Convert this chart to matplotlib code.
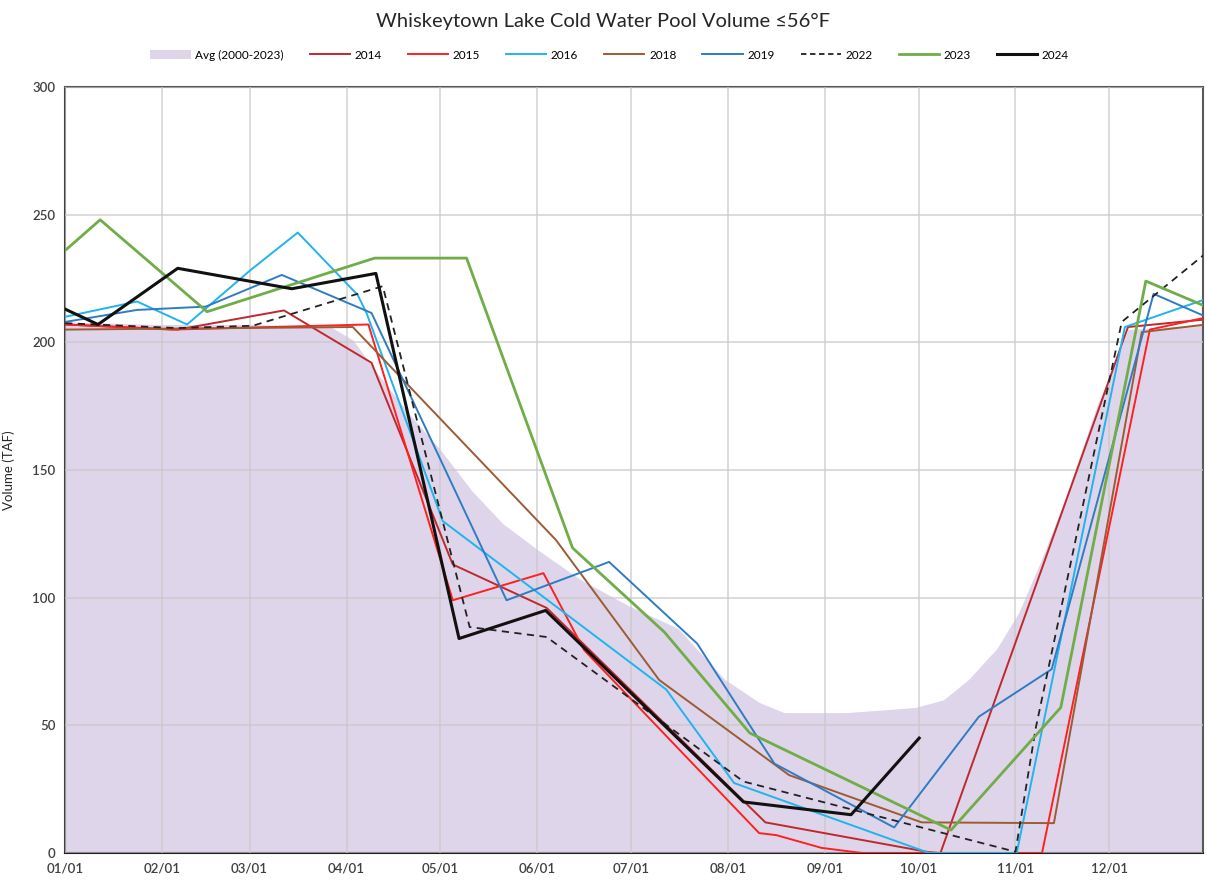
import matplotlib
matplotlib.use("Agg")
import matplotlib.pyplot as plt
from matplotlib.patches import Patch
from matplotlib.lines import Line2D

# Día del año (0 = 1 de enero) y volumen en TAF
month_days = [0, 31, 59, 90, 120, 151, 181, 212, 243, 273, 304, 334]
month_labels = ["01/01", "02/01", "03/01", "04/01", "05/01", "06/01",
                "07/01", "08/01", "09/01", "10/01", "11/01", "12/01"]

avg_days = [0, 30, 60, 85, 92, 101, 110, 120, 130, 140, 152, 165, 180, 196, 211,
            222, 230, 250, 272, 281, 289, 298, 305, 312, 320, 330, 336, 340, 365]
avg_vals = [208, 207, 207, 206, 201, 186, 172, 158, 142, 129, 118, 107, 97, 88, 68,
            59, 55, 55, 57, 60, 68, 80, 94, 114, 139, 175, 192, 205, 207]

d2014 = [0, 36, 70, 98, 124, 154, 224, 276, 280, 340, 365]
v2014 = [207, 205, 212.5, 192, 113, 96, 12, 0.4, 0, 206, 209]

d2015 = [0, 34, 97, 124, 153, 166, 222, 227.5, 242, 255, 312.5, 347, 364]
v2015 = [207, 205, 207, 99, 109.6, 79.5, 7.8, 7, 2, 0, 0, 205, 209.5]

d2016 = [0, 23, 39, 59, 74.4, 93.6, 96.4, 120.8, 192.3, 214, 276.4, 304.4, 339, 365]
v2016 = [210, 216, 207, 228, 243, 218.5, 211.5, 130, 64, 27.4, 0, 0, 206, 217]

d2018 = [0, 92, 157, 190, 231.6, 274, 316.3, 344.4, 365]
v2018 = [205, 206, 122.6, 67.8, 30.5, 12, 11.7, 204, 207]

d2019 = [0, 23, 45, 69.3, 98, 141.2, 174, 202.2, 226.9, 265.2, 292.3, 315.6, 348.2, 365]
v2019 = [208, 212.7, 214, 226.4, 211.5, 99, 114, 82, 35, 10, 53.4, 72, 219, 210]

d2022 = [0, 36, 60, 101.6, 129.4, 154, 217, 304, 310.5, 338, 365]
v2022 = [207.5, 205.6, 206.5, 222, 88.5, 84.6, 28, 0.5, 49, 208, 235]

d2023 = [0, 11.2, 45.4, 99, 128.4, 162.3, 191.7, 219, 283.4, 318.5, 345.7, 365]
v2023 = [236, 248, 212, 233, 233, 119.5, 86.5, 47, 9, 57, 224, 214]

d2024 = [0, 10.5, 36, 72.5, 99.4, 126, 153.7, 217, 251.4, 273.2]
v2024 = [213, 207, 229, 221, 227, 84, 95, 20, 15, 45]

plt.rcParams['font.family'] = ['Lato', 'DejaVu Sans']

fig = plt.figure(figsize=(12.07, 8.88), dpi=100)
ax = fig.add_axes([0.054, 0.0394, 0.9427, 0.8626])

# Promedio como área rellena
ax.fill_between(avg_days, 0, avg_vals, color='#DFD5EA', lw=0, zorder=1)

# Líneas de cada año
ax.plot(d2014, v2014, color='#C0282D', lw=1.4, zorder=3)
ax.plot(d2015, v2015, color='#FF2020', lw=1.4, zorder=3)
ax.plot(d2016, v2016, color='#1FB4EE', lw=1.4, zorder=3)
ax.plot(d2018, v2018, color='#9C5B34', lw=1.4, zorder=3)
ax.plot(d2019, v2019, color='#2E7CC4', lw=1.4, zorder=3)
ax.plot(d2022, v2022, color='#222222', lw=1.3, ls=(0, (4, 3)), zorder=3)
ax.plot(d2023, v2023, color='#70AD47', lw=2.0, zorder=3)
ax.plot(d2024, v2024, color='#111111', lw=2.2, zorder=4)

ax.set_xlim(0, 364)
ax.set_ylim(0, 300)
ax.set_xticks(month_days)
ax.set_xticklabels(month_labels)
ax.set_yticks(range(0, 301, 50))
ax.tick_params(length=0, labelsize=9.5, colors='#404040', pad=7)
for lab in ax.get_xticklabels() + ax.get_yticklabels():
    lab.set_fontweight('semibold')
ax.grid(True, color='#C8C8C8', lw=1.3, alpha=0.7, zorder=2)
ax.set_axisbelow(False)
for s in ax.spines.values():
    s.set_color('#595959')
    s.set_linewidth(1.5)
ax.spines['bottom'].set_color('#202020')
ax.spines['left'].set_color('#404040')

ax.set_ylabel('Volume (TAF)', fontsize=9.5, color='#262626')
ax.yaxis.set_label_coords(-0.044, 0.5)

fig.suptitle('Whiskeytown Lake Cold Water Pool Volume \u226456\u00b0F', y=0.985,
             fontsize=14.5, color='#262626')

handles = [
    Patch(facecolor='#DFD5EA', edgecolor='none', label='Avg (2000-2023)'),
    Line2D([], [], color='#C0282D', lw=1.4, label='2014'),
    Line2D([], [], color='#FF2020', lw=1.4, label='2015'),
    Line2D([], [], color='#1FB4EE', lw=1.4, label='2016'),
    Line2D([], [], color='#9C5B34', lw=1.4, label='2018'),
    Line2D([], [], color='#2E7CC4', lw=1.4, label='2019'),
    Line2D([], [], color='#222222', lw=1.3, ls=(0, (3, 2)), label='2022'),
    Line2D([], [], color='#70AD47', lw=2.0, label='2023'),
    Line2D([], [], color='#111111', lw=2.2, label='2024'),
]
fig.legend(handles=handles, loc='center', bbox_to_anchor=(0.505, 0.938), ncol=9,
           frameon=False, fontsize=8.5, handlelength=3.4, columnspacing=2.2,
           handletextpad=0.4)

fig.savefig('out.png', dpi=100)
